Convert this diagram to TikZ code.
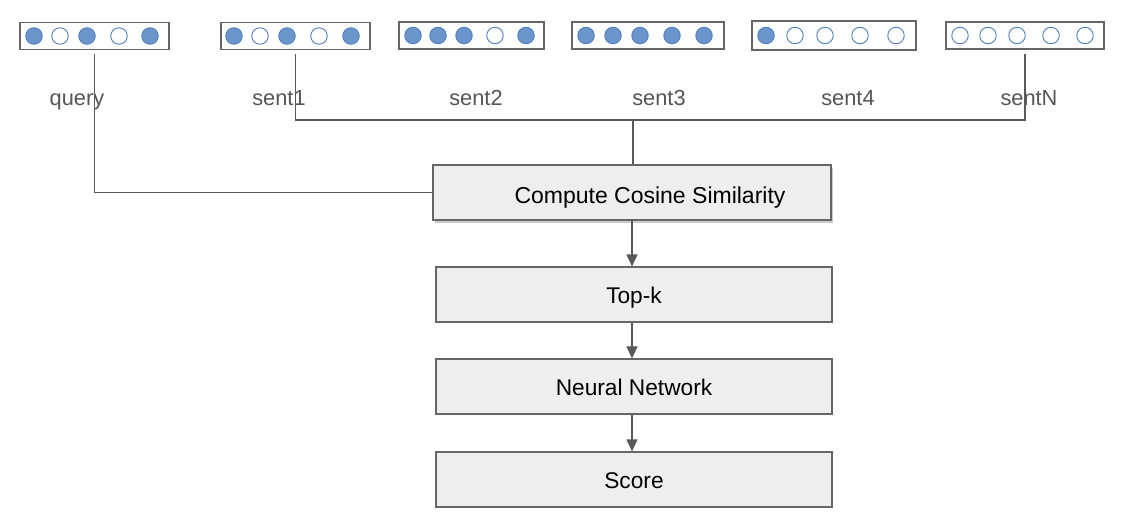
\documentclass[tikz,border=0pt]{standalone}
\usepackage{fontspec}
\setmainfont{Liberation Sans}
\usetikzlibrary{arrows.meta,shadows}
\definecolor{ln}{HTML}{595959}
\definecolor{bd}{HTML}{666666}
\definecolor{boxfill}{HTML}{EEEEEE}
\definecolor{dotfill}{HTML}{6B96CC}
\definecolor{dotline}{HTML}{4F7FBF}
\definecolor{lbl}{HTML}{555555}
\begin{document}
\begin{tikzpicture}[x=1pt,y=-1pt,
  vec/.style={draw=bd,line width=1.4pt,fill=white,minimum height=27,inner sep=0},
  on/.style={circle,draw=dotline,fill=dotfill,line width=0.9pt,minimum size=16.5,inner sep=0},
  off/.style={circle,draw=dotline,fill=white,line width=0.9pt,minimum size=16.5,inner sep=0},
  lab/.style={text=lbl,font=\fontsize{21.8}{26}\selectfont,anchor=base,inner sep=0},
  stage/.style={draw=bd,line width=1.2pt,fill=boxfill,minimum width=396,minimum height=55,inner sep=0},
  stagetext/.style={font=\fontsize{22.7}{27}\selectfont,anchor=base,inner sep=0},
  conn/.style={draw=ln,line width=1.2pt},
  arr/.style={conn,-{Triangle[width=11pt,length=12pt]}}
]
\useasboundingbox (0,0) rectangle (1127,527);

% vectors
\node[vec,minimum width=149] (qv) at (94.5,36) {};
\node[on]  (q1) at (34,36) {};
\node[off] (q2) at (60,36) {};
\node[on]  (q3) at (87,36) {};
\node[off] (q4) at (119,36) {};
\node[on]  (q5) at (150,36) {};

\node[vec,minimum width=149] (s1v) at (295.5,36) {};
\node[on]  (a1) at (234,36) {};
\node[off] (a2) at (260,36) {};
\node[on]  (a3) at (287,36) {};
\node[off] (a4) at (319,36) {};
\node[on]  (a5) at (351,36) {};

\node[vec,minimum width=145] (s2v) at (471.5,35.5) {};
\node[on]  (b1) at (413,35.5) {};
\node[on]  (b2) at (438,35.5) {};
\node[on]  (b3) at (464,35.5) {};
\node[off] (b4) at (495,35.5) {};
\node[on]  (b5) at (526,35.5) {};

\node[vec,minimum width=152] (s3v) at (648,35.5) {};
\node[on] (c1) at (586,35.5) {};
\node[on] (c2) at (613,35.5) {};
\node[on] (c3) at (640,35.5) {};
\node[on] (c4) at (672,35.5) {};
\node[on] (c5) at (704,35.5) {};

\node[vec,minimum width=164,minimum height=29] (s4v) at (834,35.5) {};
\node[on]  (d1) at (766,35.5) {};
\node[off] (d2) at (795,35.5) {};
\node[off] (d3) at (825,35.5) {};
\node[off] (d4) at (860,35.5) {};
\node[off] (d5) at (896,35.5) {};

\node[vec,minimum width=158] (sNv) at (1025,35.5) {};
\node[off] (e1) at (960,35.5) {};
\node[off] (e2) at (988,35.5) {};
\node[off] (e3) at (1017,35.5) {};
\node[off] (e4) at (1051,35.5) {};
\node[off] (e5) at (1085,35.5) {};

% labels
\node[lab] (ql)  at (77,106)   {query};
\node[lab] (s1l) at (279,106)  {sent1};
\node[lab] (s2l) at (476,106)  {sent2};
\node[lab] (s3l) at (659,106)  {sent3};
\node[lab] (s4l) at (848,106)  {sent4};
\node[lab] (sNl) at (1029,106) {sentN};

% stages
\node[stage,minimum width=398,drop shadow={shadow xshift=2pt,shadow yshift=-2.5pt,opacity=0.35,fill=black!60}] (cc) at (632,192.5) {};
\node[stagetext,font=\fontsize{23}{27}\selectfont] (cct) at (650,203) {Compute Cosine Similarity};
\node[stage] (tk) at (634,294.5) {};
\node[stagetext] (tkt) at (634,303) {Top-k};
\node[stage] (nn) at (634,386.5) {};
\node[stagetext] (nnt) at (634,395) {Neural Network};
\node[stage] (sc) at (634,479.5) {};
\node[stagetext] (sct) at (634,488.5) {Score};

% connectors
\coordinate (jn) at (633,120);
\draw[conn] ([yshift=-4pt]qv.south) |- (cc.west);
\draw[conn] ([yshift=-4pt]s1v.south) |- (jn) -| ([yshift=-4pt]sNv.south);
\draw[conn] (jn) -- (jn |- cc.north);
\draw[arr] (cc.south) -- (cc.south |- tk.north);
\draw[arr] (tk.south -| cc.south) -- (cc.south |- nn.north);
\draw[arr] (nn.south -| cc.south) -- (cc.south |- sc.north);
\end{tikzpicture}
\end{document}
